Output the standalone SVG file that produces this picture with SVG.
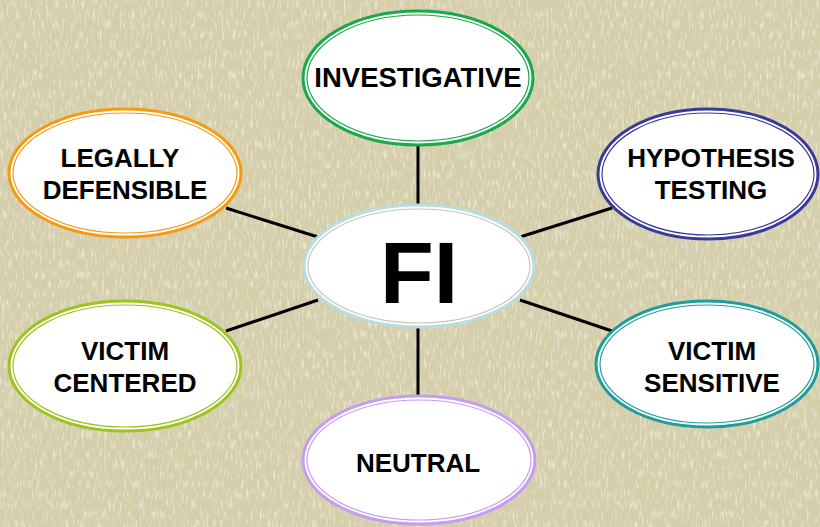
<svg xmlns="http://www.w3.org/2000/svg" width="820" height="527" viewBox="0 0 820 527">
<defs>
<filter id="tex" x="0" y="0" width="100%" height="100%">
<feTurbulence type="fractalNoise" baseFrequency="0.4 0.09" numOctaves="2" seed="3" result="n"/>
<feColorMatrix in="n" type="matrix" values="0 0 0 0 0.66  0 0 0 0 0.63  0 0 0 0 0.5  -2.4 0 0 0 1.35"/>
</filter>
<filter id="tex2" x="0" y="0" width="100%" height="100%">
<feTurbulence type="fractalNoise" baseFrequency="0.45 0.1" numOctaves="2" seed="11" result="n"/>
<feColorMatrix in="n" type="matrix" values="0 0 0 0 0.95  0 0 0 0 0.94  0 0 0 0 0.84  2.4 0 0 0 -1.2"/>
</filter>
</defs>
<style>
.lbl{font-family:"Liberation Sans",Arial,sans-serif;font-weight:bold;font-size:26px;fill:#000;text-anchor:middle}
.in{fill:none;stroke-width:1.2}
.out{fill:#fff;stroke-width:3}
.con line{stroke:#000;stroke-width:3}
</style>
<rect width="820" height="527" fill="#d5cea9"/>
<rect width="820" height="527" filter="url(#tex)" opacity="0.7"/>
<rect width="820" height="527" filter="url(#tex2)" opacity="0.75"/>
<g id="connectors" class="con">
<line x1="418" y1="146" x2="418" y2="206"/>
<line x1="418" y1="326" x2="418" y2="396"/>
<line x1="226" y1="208" x2="318" y2="237"/>
<line x1="520" y1="237" x2="612" y2="208"/>
<line x1="226" y1="331" x2="318" y2="300"/>
<line x1="520" y1="300" x2="612" y2="331"/>
</g>
<g id="investigative">
<ellipse class="out" cx="418" cy="78" rx="115" ry="67" stroke="#19a84a"/>
<ellipse class="in" cx="418" cy="78" rx="111" ry="63" stroke="#19a84a"/>
<text class="lbl" x="418" y="87" style="font-size:27.5px">INVESTIGATIVE</text>
</g>
<g id="fi">
<ellipse class="out" cx="419" cy="266" rx="115" ry="61" stroke="#b8dde0"/>
<ellipse class="in" cx="419" cy="266" rx="111" ry="57" stroke="#c9c6b8"/>
<text class="lbl" x="419" y="303" style="font-size:88px">FI</text>
</g>
<g id="legally">
<ellipse class="out" cx="125" cy="173" rx="116" ry="64" stroke="#f59a10"/>
<ellipse class="in" cx="125" cy="173" rx="112" ry="60" stroke="#f59a10"/>
<text class="lbl" x="120" y="167">LEGALLY</text>
<text class="lbl" x="125" y="199">DEFENSIBLE</text>
</g>
<g id="hypothesis">
<ellipse class="out" cx="708" cy="174" rx="110" ry="65" stroke="#3a3a9a"/>
<ellipse class="in" cx="708" cy="174" rx="106" ry="61" stroke="#3a3a9a"/>
<text class="lbl" x="711" y="167">HYPOTHESIS</text>
<text class="lbl" x="711" y="199">TESTING</text>
</g>
<g id="victim-centered">
<ellipse class="out" cx="125" cy="366" rx="116" ry="65" stroke="#9cc41c"/>
<ellipse class="in" cx="125" cy="366" rx="112" ry="61" stroke="#9cc41c"/>
<text class="lbl" x="125" y="360">VICTIM</text>
<text class="lbl" x="125" y="392">CENTERED</text>
</g>
<g id="victim-sensitive">
<ellipse class="out" cx="707" cy="364" rx="111" ry="63" stroke="#1f9c9c"/>
<ellipse class="in" cx="707" cy="364" rx="107" ry="59" stroke="#1f9c9c"/>
<text class="lbl" x="712" y="360">VICTIM</text>
<text class="lbl" x="712" y="392">SENSITIVE</text>
</g>
<g id="neutral">
<ellipse class="out" cx="419" cy="460" rx="116" ry="64" stroke="#c79cf0"/>
<ellipse class="in" cx="419" cy="460" rx="112" ry="60" stroke="#c79cf0"/>
<text class="lbl" x="418" y="472">NEUTRAL</text>
</g>
</svg>
